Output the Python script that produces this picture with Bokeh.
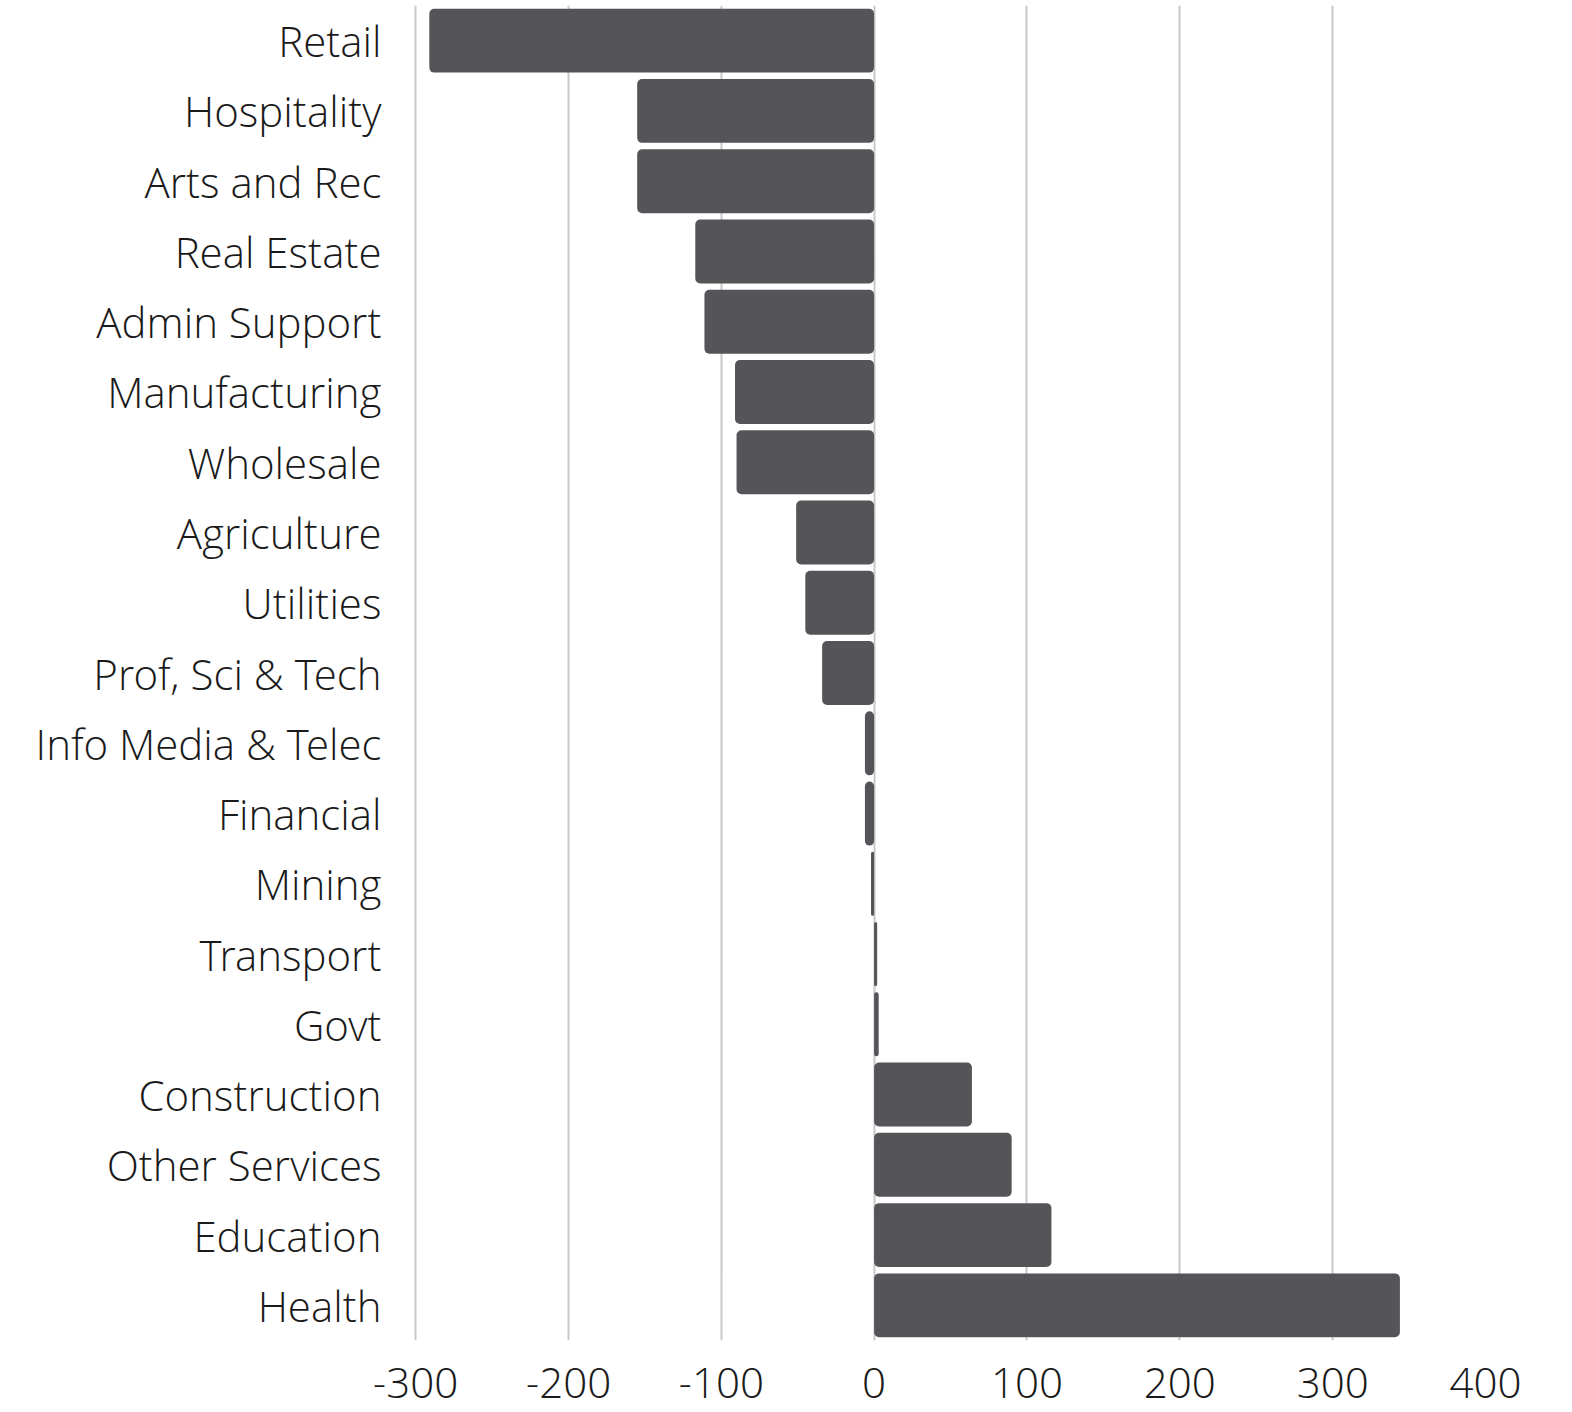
from bokeh.plotting import figure
from bokeh.models import FactorRange, Range1d, FixedTicker, ColumnDataSource
from bokeh.embed import file_html
from bokeh.resources import INLINE

categories = ["Retail", "Hospitality", "Arts and Rec", "Real Estate", "Admin Support",
              "Manufacturing", "Wholesale", "Agriculture", "Utilities", "Prof, Sci & Tech",
              "Info Media & Telec", "Financial", "Mining", "Transport", "Govt",
              "Construction", "Other Services", "Education", "Health"]
values = [-291, -155, -155, -117, -111, -91, -90, -51, -45, -34,
          -6, -6, -2, 2, 3, 64, 90, 116, 344]
x_ticks = [-300, -200, -100, 0, 100, 200, 300, 400]
x_tick_labels = ["-300", "-200", "-100", "0", "100", "200", "300", "400"]

FONT = "'Open Sans Light', 'Open Sans', sans-serif"

src = ColumnDataSource(dict(cat=categories, val=values, zero=[0] * len(values)))

p = figure(width=1556, height=1412, output_backend="svg", toolbar_location=None,
           y_range=FactorRange(factors=list(reversed(categories)), range_padding=0),
           x_range=Range1d(-302, 400),
           min_border_left=412, min_border_right=71, min_border_top=5, min_border_bottom=72)

p.hbar(y="cat", left="zero", right="val", height=0.91, source=src,
       fill_color="#555559", line_color=None, border_radius=5)

p.outline_line_color = None
p.background_fill_color = "white"
p.ygrid.grid_line_color = None
p.xgrid.grid_line_color = "#c8c8c8"
p.xgrid.grid_line_width = 2
p.xaxis.ticker = FixedTicker(ticks=x_ticks)
p.xaxis.major_label_overrides = {t: s for t, s in zip(x_ticks, x_tick_labels)}

for ax in (p.xaxis, p.yaxis):
    ax.axis_line_color = None
    ax.major_tick_line_color = None
    ax.minor_tick_line_color = None
    ax.major_tick_out = 0
    ax.major_tick_in = 0
    ax.major_label_text_font = FONT
    ax.major_label_text_font_size = "42px"
    ax.major_label_text_color = "#1a1a1a"

p.yaxis.major_label_standoff = 31
p.xaxis.major_label_standoff = 27
p.xaxis.major_label_text_line_height = 0.8

open("out.html", "w").write(file_html(p, INLINE))
